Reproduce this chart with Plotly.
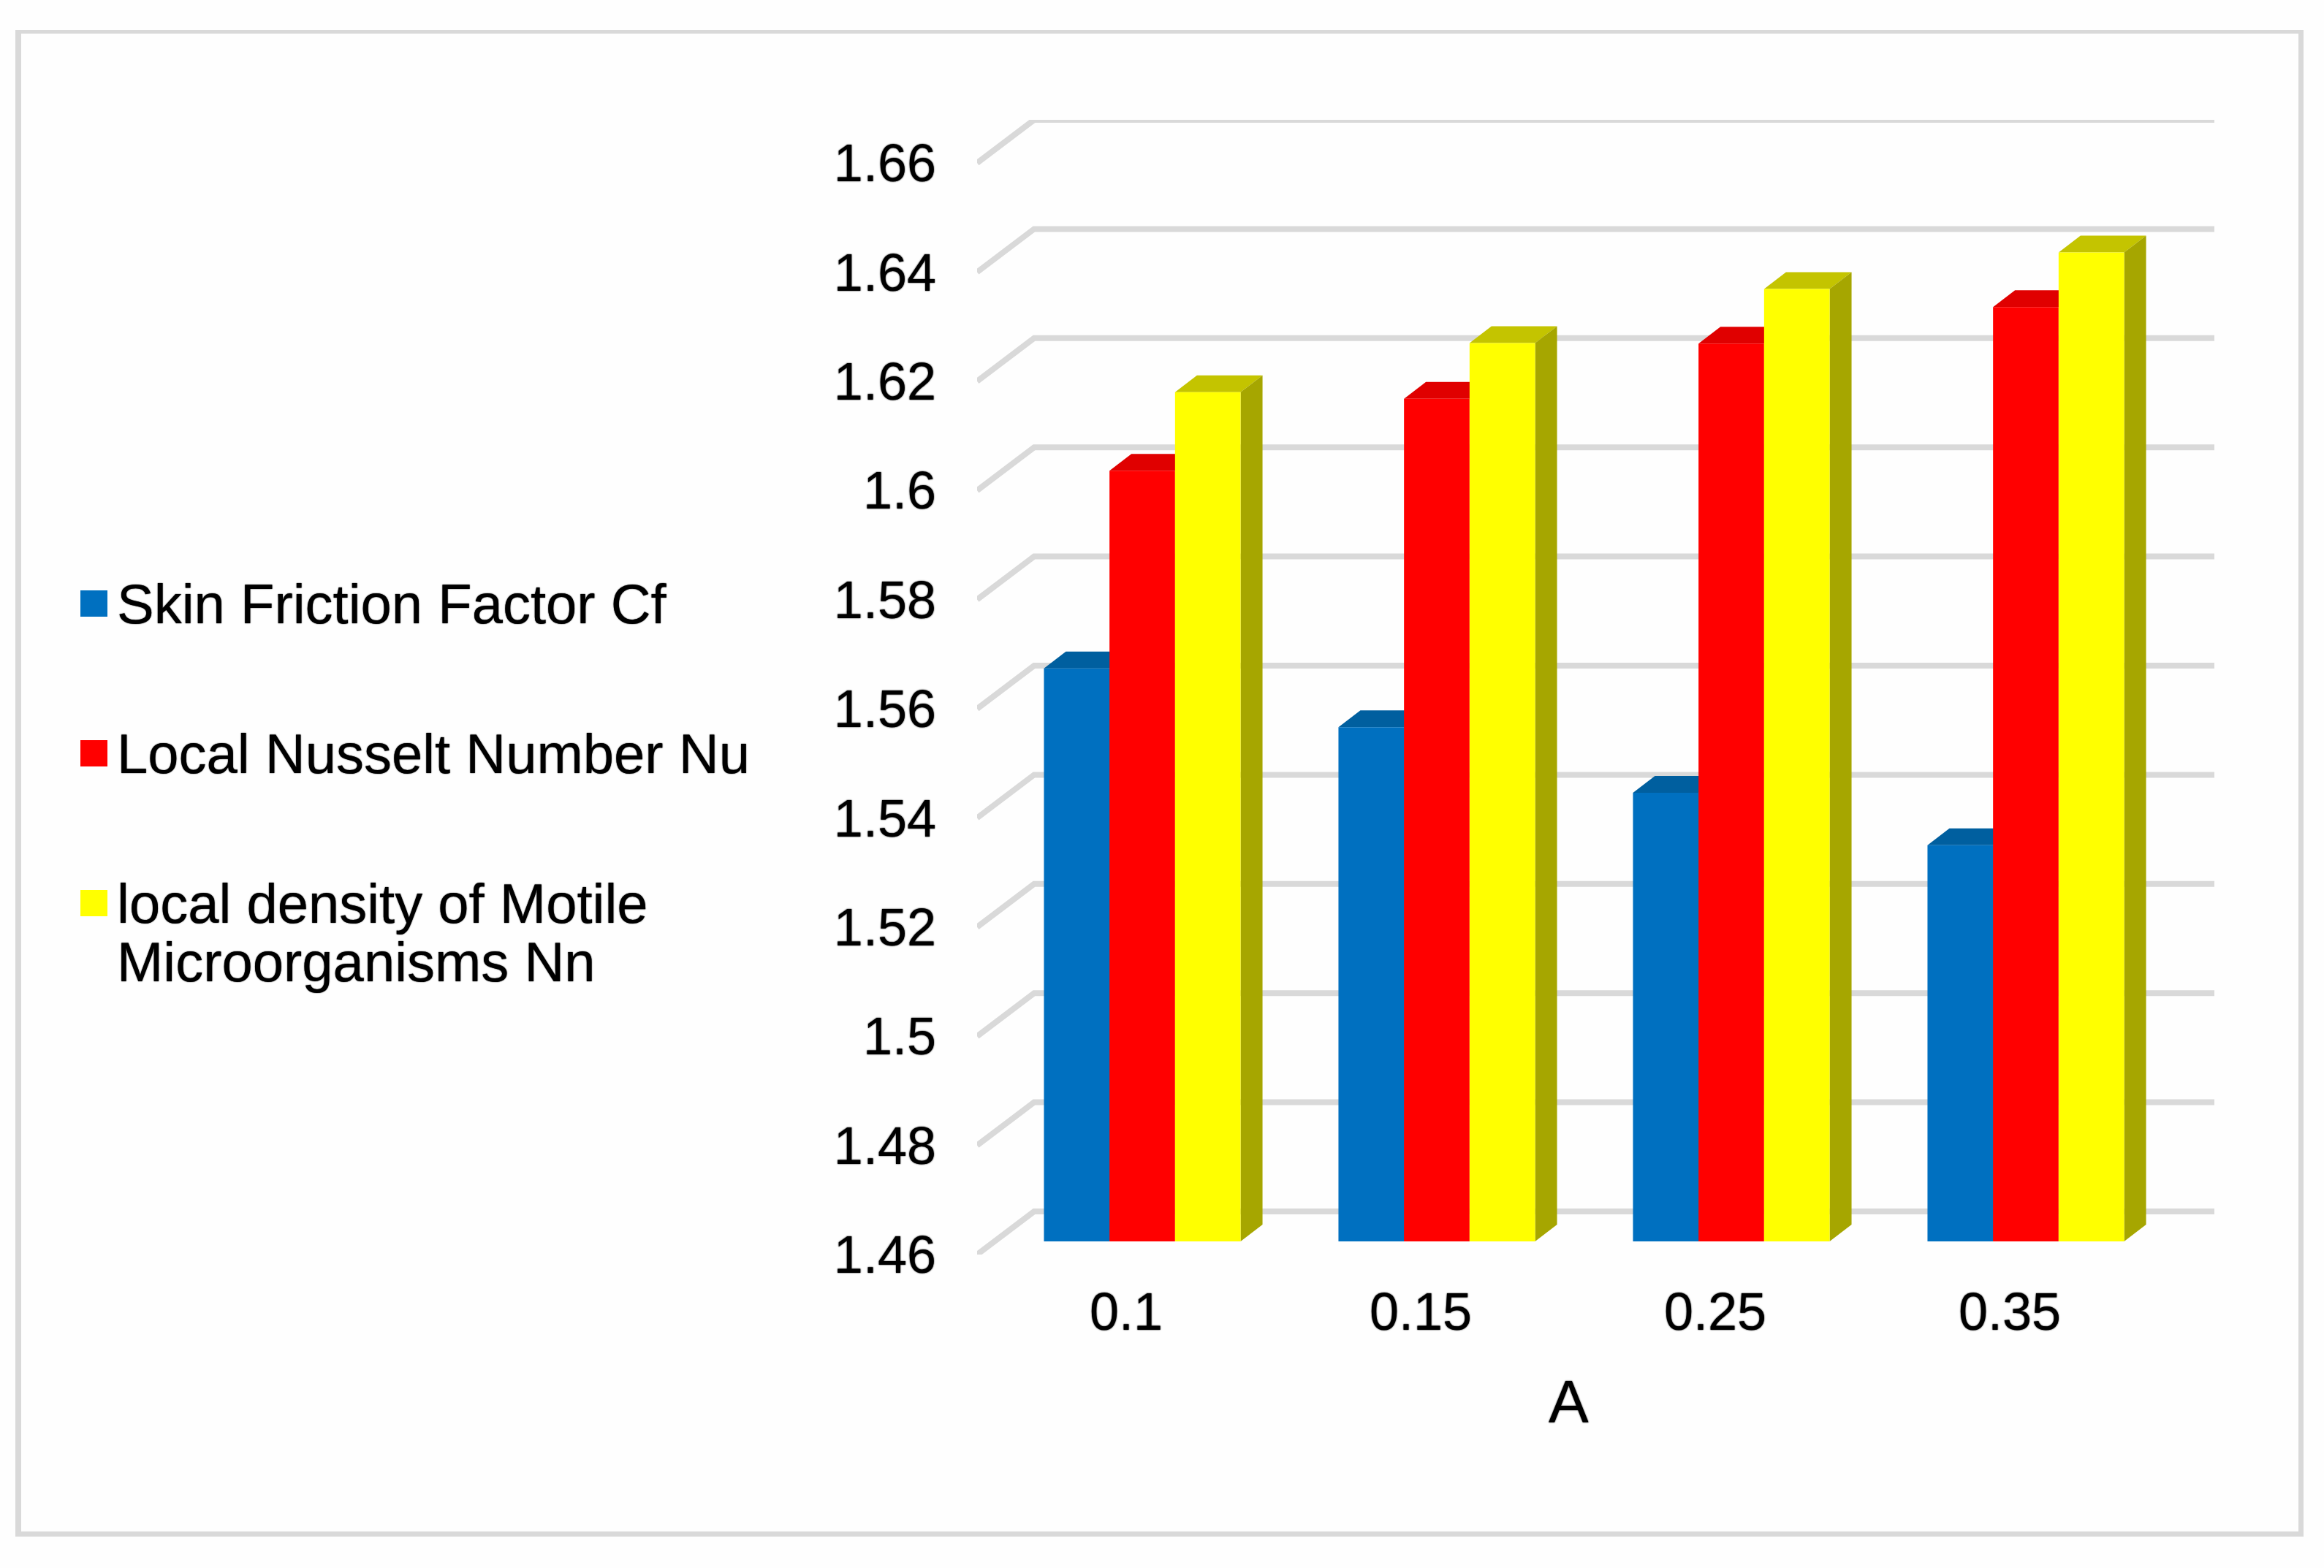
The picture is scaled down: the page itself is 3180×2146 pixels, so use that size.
import plotly.graph_objects as go

W, H = 3180, 2146

categories = ["0.1", "0.15", "0.25", "0.35"]
series_names = ["Skin Friction Factor Cf", "Local Nusselt Number Nu", "local density of Motile Microorganisms Nn"]
skin_friction = [1.5650, 1.5542, 1.5422, 1.5326]
nusselt = [1.6012, 1.6144, 1.6245, 1.6312]
motile = [1.6156, 1.6246, 1.6345, 1.6412]
y_ticks = [1.46, 1.48, 1.50, 1.52, 1.54, 1.56, 1.58, 1.60, 1.62, 1.64, 1.66]
y_labels = ["1.46", "1.48", "1.5", "1.52", "1.54", "1.56", "1.58", "1.6", "1.62", "1.64", "1.66"]

front = ["#0070C0", "#FF0000", "#FFFF00"]
top = ["#005F9F", "#E00000", "#C4C400"]
side = ["#005490", "#C00000", "#A6A600"]
GRID = "#D9D9D9"
PAPER = "#FEFEFE"
FONT = "Liberation Sans"
SHADOW = "0 0 2px #000000"

# pixel geometry of the pseudo-3D box
PL, PR, PT, PB = 1337, 3030, 164, 1717
PX_PER_VALUE = 7470.0
PX_PER_CAT = 403.0
BAR_W = 89.7 / PX_PER_CAT
ymax = 1.46 + (PB - PT) / PX_PER_VALUE


def xrange_for(zero_px):
    return [(PL - zero_px) / PX_PER_CAT, (PR - zero_px) / PX_PER_CAT]


def yrange_for(shift_px):
    d = shift_px / PX_PER_VALUE
    return [1.46 - d, ymax - d]


fig = go.Figure()

# gridlines: front-left stub, then the back wall (primary axes = front plane)
GRID_DX = 78 / PX_PER_CAT
GRID_DY = 59 / PX_PER_VALUE
x0_left = xrange_for(1541)[0]
x0_right = xrange_for(1541)[1]
gx, gy = [], []
for t in y_ticks:
    gx += [x0_left, x0_left + GRID_DX, x0_right, None]
    gy += [t, t + GRID_DY, t + GRID_DY, None]
fig.add_trace(go.Scatter(x=gx, y=gy, mode="lines", line=dict(color=GRID, width=8),
                         hoverinfo="skip", showlegend=False, xaxis="x", yaxis="y", cliponaxis=False))

# faces of bars: top and right side, on the bar plane axes
DEPTH_X = 30 / PX_PER_CAT
DEPTH_Y = 23 / PX_PER_VALUE
all_series = [skin_friction, nusselt, motile]
for s, vals in enumerate(all_series):
    for i, v in enumerate(vals):
        xl = i + (s - 1.5) * BAR_W
        xr = xl + BAR_W
        fig.add_trace(go.Scatter(x=[xl, xl + DEPTH_X, xr + DEPTH_X, xr, xl],
                                 y=[v, v + DEPTH_Y, v + DEPTH_Y, v, v],
                                 mode="lines", fill="toself", fillcolor=top[s], line=dict(width=0),
                                 hoverinfo="skip", showlegend=False, xaxis="x2", yaxis="y2", cliponaxis=False))
        fig.add_trace(go.Scatter(x=[xr, xr + DEPTH_X, xr + DEPTH_X, xr, xr],
                                 y=[1.46, 1.46 + DEPTH_Y, v + DEPTH_Y, v, 1.46],
                                 mode="lines", fill="toself", fillcolor=side[s], line=dict(width=0),
                                 hoverinfo="skip", showlegend=False, xaxis="x2", yaxis="y2", cliponaxis=False))

# front faces
for s, vals in enumerate(all_series):
    fig.add_trace(go.Bar(x=list(range(len(categories))), y=[v - 1.46 for v in vals], base=1.46,
                         width=BAR_W, offset=(s - 1.5) * BAR_W, name=series_names[s],
                         marker=dict(color=front[s], line=dict(width=0)),
                         showlegend=False, xaxis="x3", yaxis="y3"))


def fx(px):
    return px / W


def fy(px):
    return 1 - px / H


dom_x = [fx(PL), fx(PR)]
dom_y = [fy(PB), fy(PT)]
hidden = dict(domain=dom_x, showgrid=False, zeroline=False, showticklabels=False, ticks="", showline=False)
hidden_y = dict(domain=dom_y, showgrid=False, zeroline=False, showticklabels=False, ticks="", showline=False)

shapes = [
    dict(type="rect", xref="paper", yref="paper", x0=fx(21), x1=fx(3152), y0=fy(41), y1=fy(2103),
         line=dict(width=0), fillcolor=GRID, layer="below"),
    dict(type="rect", xref="paper", yref="paper", x0=fx(29), x1=fx(3145), y0=fy(46), y1=fy(2096),
         line=dict(width=0), fillcolor=PAPER, layer="below"),
]
annotations = []
LEG_X = 158
legend_rows = [(series_names[0], 826, 0), (series_names[1], 1031, 1),
               ("local density of Motile", 1236, 2), ("Microorganisms Nn", 1316, None)]
for text, yc, s in legend_rows:
    annotations.append(dict(text=text, xref="paper", yref="paper", x=fx(LEG_X), y=fy(yc), xanchor="left",
                            yanchor="middle", align="left", showarrow=False,
                            font=dict(family=FONT, size=76, color="#000000", shadow="0 0 1.5px #000000")))
    if s is not None:
        shapes.append(dict(type="rect", xref="paper", yref="paper", x0=fx(110), x1=fx(147),
                           y0=fy(yc + 18), y1=fy(yc - 18), fillcolor=front[s], line=dict(width=0)))
annotations.append(dict(text="A", xref="paper", yref="paper", x=fx(2146), y=fy(1917), xanchor="center",
                        yanchor="middle", showarrow=False,
                        font=dict(family=FONT, size=82, color="#000000", shadow=SHADOW)))

tick_font = dict(family=FONT, size=72, color="#000000", shadow=SHADOW)
fig.update_layout(
    width=W, height=H, margin=dict(l=0, r=0, t=0, b=0, autoexpand=False),
    paper_bgcolor=PAPER, plot_bgcolor="rgba(0,0,0,0)", showlegend=False,
    barmode="overlay", shapes=shapes, annotations=annotations,
    xaxis=dict(domain=dom_x, range=xrange_for(1541), tickmode="array", tickvals=list(range(len(categories))),
               ticktext=categories, showgrid=False, zeroline=False, showline=False, ticks="",
               ticklabelstandoff=30, tickfont=tick_font),
    yaxis=dict(domain=dom_y, range=yrange_for(0), tickmode="array", tickvals=y_ticks, ticktext=y_labels,
               showgrid=False, zeroline=False, showline=False, ticks="",
               ticklabelstandoff=55, tickfont=tick_font),
    xaxis2=dict(range=xrange_for(1563), overlaying="x", anchor="y2", **hidden),
    yaxis2=dict(range=yrange_for(18), overlaying="y", anchor="x2", **hidden_y),
    xaxis3=dict(range=xrange_for(1563), overlaying="x", anchor="y3", **hidden),
    yaxis3=dict(range=yrange_for(18), overlaying="y", anchor="x3", **hidden_y),
)

fig.write_html("out.html", config={"displayModeBar": False}, post_script="document.body.style.margin='0';")
